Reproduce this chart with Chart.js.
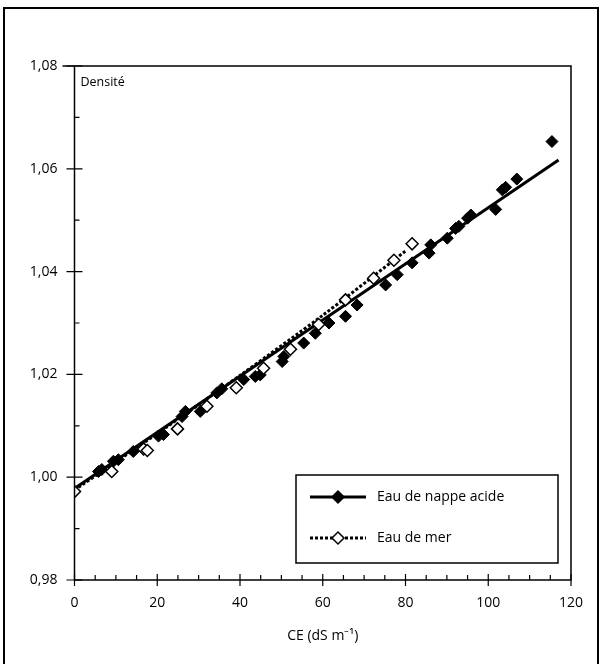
<!DOCTYPE html>
<html>
<head>
<meta charset="utf-8">
<script src="https://cdn.jsdelivr.net/npm/chart.js@4/dist/chart.umd.min.js"></script>
<style>
  html, body { margin: 0; padding: 0; background: #fff; }
  #wrap { width: 603px; height: 664px; }
</style>
</head>
<body>
<div id="wrap"><canvas id="c"></canvas></div>
<script>
// Eau de nappe acide (filled diamonds)
const nappeX = [5.8, 6.6, 9.4, 10.6, 14.2, 20.3, 21.5, 26.0, 26.8, 30.4, 34.4, 35.6, 40.9, 43.7, 44.9,
  50.2, 50.6, 55.4, 58.2, 61.5, 65.5, 68.3, 75.2, 78.0, 81.6, 85.7, 86.1, 90.1, 92.1, 92.9, 95.0, 95.8,
  101.8, 103.4, 104.2, 106.9, 115.4];
const nappeY = [1.0011, 1.0015, 1.0031, 1.0034, 1.0050, 1.0080, 1.0083, 1.0118, 1.0128, 1.0128, 1.0164,
  1.0172, 1.0190, 1.0196, 1.0199, 1.0225, 1.0235, 1.0261, 1.0280, 1.0300, 1.0313, 1.0335, 1.0374, 1.0394,
  1.0417, 1.0436, 1.0452, 1.0465, 1.0484, 1.0488, 1.0504, 1.0510, 1.0521, 1.0559, 1.0564, 1.0580, 1.0653];

// Eau de mer (open diamonds)
const merX = [0, 9.0, 16.7, 17.6, 24.9, 32.0, 39.1, 45.7, 52.2, 59.0, 65.5, 72.3, 77.2, 81.6];
const merY = [0.9972, 1.0011, 1.0055, 1.0052, 1.0094, 1.0138, 1.0174, 1.0212, 1.0249, 1.0297, 1.0345,
  1.0387, 1.0422, 1.0454];

// fitted curves
const nappeFitX = [0, 117];
const nappeFitY = [0.9978, 1.0617];
const merFitX = [0, 20, 40, 60, 80];
const merFitY = [0.9975, 1.0085, 1.0198, 1.0315, 1.0440];

const labels = ['Eau de nappe acide', 'Eau de mer'];
const xTitle = 'CE (dS m\u207B\u00B9)';
const yTitle = 'Densité';

const FONT = '"Open Sans", sans-serif';

function pts(xs, ys) {
    return xs.map((x, i) => ({x: x, y: ys[i]}));
}

// ticks, frames, legend box
const decor = {
    id: 'decor',
    afterDraw(chart) {
	const ctx = chart.ctx;
	const a = chart.chartArea;
	const xs = chart.scales.x, ys = chart.scales.y;
	ctx.save();
	ctx.strokeStyle = '#000';
	ctx.lineCap = 'butt';

	// outer frame
	ctx.lineWidth = 2;
	ctx.beginPath();
	ctx.moveTo(4, 664); ctx.lineTo(4, 8); ctx.lineTo(598, 8); ctx.lineTo(598, 664);
	ctx.stroke();

	// plot box
	ctx.lineWidth = 1.5;
	ctx.beginPath();
	ctx.moveTo(a.left, a.bottom); ctx.lineTo(a.right, a.bottom); ctx.lineTo(a.right, a.top);
	ctx.lineTo(a.left - 12, a.top);
	ctx.moveTo(a.left, a.top); ctx.lineTo(a.left, a.bottom);
	ctx.stroke();

	// x ticks
	ctx.lineWidth = 1.2;
	ctx.beginPath();
	for (let v = 0; v <= 120; v += 5) {
	    const px = xs.getPixelForValue(v);
	    if (v % 20 === 0) { ctx.moveTo(px, a.bottom - 6); ctx.lineTo(px, a.bottom + 6); }
	    else { ctx.moveTo(px, a.bottom); ctx.lineTo(px, a.bottom - 5); }
	}
	// y ticks
	for (let k = 98; k <= 108; k++) {
	    const py = ys.getPixelForValue(k / 100);
	    if (k % 2 === 0) { ctx.moveTo(a.left - 8, py); ctx.lineTo(a.left + 8, py); }
	    else { ctx.moveTo(a.left, py); ctx.lineTo(a.left + 5, py); }
	}
	ctx.stroke();

	// y title inside plot
	ctx.fillStyle = '#000';
	ctx.font = '12.5px ' + FONT;
	ctx.textAlign = 'left';
	ctx.textBaseline = 'middle';
	ctx.fillText(yTitle, a.left + 6, a.top + 16);

	// legend
	const lx = 296, ly = 475, lw = 262, lh = 88;
	ctx.lineWidth = 1.5;
	ctx.strokeRect(lx, ly, lw, lh);
	const rows = [ly + 22, ly + 63];
	const sets = [chart.data.datasets[2], chart.data.datasets[3]];
	const marks = [chart.data.datasets[0], chart.data.datasets[1]];
	for (let i = 0; i < 2; i++) {
	    const y = rows[i];
	    ctx.save();
	    ctx.strokeStyle = '#000';
	    ctx.lineWidth = sets[i].borderWidth;
	    ctx.setLineDash(sets[i].borderDash || []);
	    ctx.beginPath();
	    ctx.moveTo(lx + 14, y); ctx.lineTo(lx + 70, y);
	    ctx.stroke();
	    ctx.restore();
	    ctx.fillStyle = marks[i].pointBackgroundColor;
	    ctx.strokeStyle = '#000';
	    ctx.lineWidth = 1.5;
	    ctx.beginPath();
	    ctx.moveTo(lx + 36, y); ctx.lineTo(lx + 42, y - 6); ctx.lineTo(lx + 48, y); ctx.lineTo(lx + 42, y + 6);
	    ctx.closePath();
	    ctx.fill(); ctx.stroke();
	    ctx.fillStyle = '#000';
	    ctx.font = '14px ' + FONT;
	    ctx.textAlign = 'left';
	    ctx.fillText(labels[i], lx + 81, y);
	}
	ctx.restore();
    }
};

new Chart(document.getElementById('c'), {
    type: 'scatter',
    data: {
	datasets: [{
	    label: labels[0],
	    data: pts(nappeX, nappeY),
	    pointStyle: 'rectRot',
	    pointRadius: 6,
	    pointBackgroundColor: '#000',
	    pointBorderColor: '#000',
	    pointBorderWidth: 1,
	    order: 1
	}, {
	    label: labels[1],
	    data: pts(merX, merY),
	    pointStyle: 'rectRot',
	    pointRadius: 6,
	    pointBackgroundColor: '#fff',
	    pointBorderColor: '#000',
	    pointBorderWidth: 1.5,
	    order: 0
	}, {
	    label: labels[0] + ' fit',
	    data: pts(nappeFitX, nappeFitY),
	    showLine: true,
	    pointRadius: 0,
	    borderColor: '#000',
	    borderWidth: 3,
	    order: 2
	}, {
	    label: labels[1] + ' fit',
	    data: pts(merFitX, merFitY),
	    showLine: true,
	    tension: 0.3,
	    pointRadius: 0,
	    borderColor: '#000',
	    borderWidth: 3,
	    borderDash: [3, 2],
	    order: 3
	}]
    },
    options: {
	responsive: true,
	maintainAspectRatio: false,
	animation: false,
	layout: { padding: { left: 0, right: 32, top: 66, bottom: 0 } },
	plugins: { legend: { display: false }, tooltip: { enabled: false } },
	scales: {
	    x: {
		type: 'linear',
		min: 0, max: 120,
		border: { display: false },
		grid: { display: false, drawTicks: false },
		ticks: {
		    stepSize: 5,
		    autoSkip: false,
		    maxRotation: 0,
		    padding: 15,
		    color: '#000',
		    font: { family: FONT, size: 14 },
		    callback: (v) => (v % 20 === 0 ? String(v) : '')
		},
		title: {
		    display: true,
		    text: xTitle,
		    color: '#000',
		    font: { family: FONT, size: 14 },
		    padding: { top: 0, bottom: 20 }
		},
		afterFit: (s) => { s.height = 84; }
	    },
	    y: {
		type: 'linear',
		min: 0.98, max: 1.08,
		border: { display: false },
		grid: { display: false, drawTicks: false },
		ticks: {
		    stepSize: 0.01,
		    autoSkip: false,
		    padding: 17,
		    color: '#000',
		    font: { family: FONT, size: 14 },
		    callback: (v) => (Math.round(v * 100) % 2 === 0 ? v.toFixed(2).replace('.', ',') : '')
		},
		afterFit: (s) => { s.width = 74.5; }
	    }
	}
    },
    plugins: [decor]
});
</script>
</body>
</html>
